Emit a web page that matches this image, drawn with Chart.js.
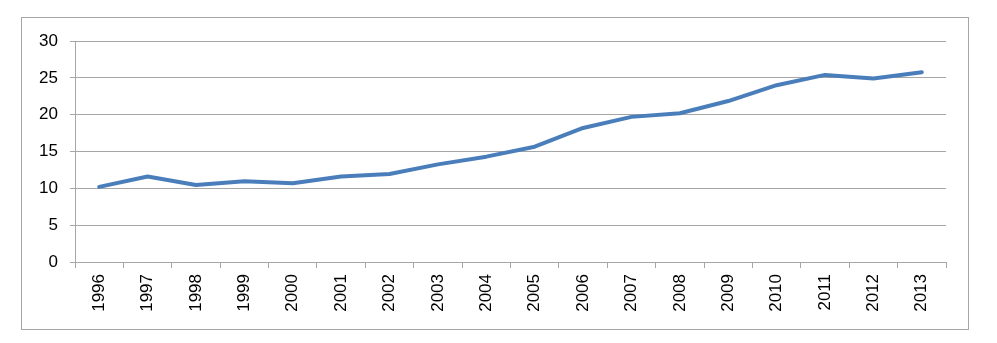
<!DOCTYPE html>
<html>
<head>
<meta charset="utf-8">
<script src="https://cdn.jsdelivr.net/npm/chart.js@4"></script>
<style>
  html, body { margin: 0; padding: 0; background: #fff; }
  body { width: 997px; height: 343px; position: relative; overflow: hidden; }
  #frame {
    position: absolute; left: 21px; top: 17px;
    width: 946px; height: 311px;
    border: 1px solid #a6a6a6; box-sizing: content-box;
  }
  #grafico { display: block; }
</style>
</head>
<body>
<div id="frame"><canvas id="grafico" width="946" height="311"></canvas></div>
<script>
// anos (eixo x)
const years = ['1996', '1997', '1998', '1999', '2000', '2001', '2002', '2003', '2004',
               '2005', '2006', '2007', '2008', '2009', '2010', '2011', '2012', '2013'];
// valores
const values = [10.2, 11.6, 10.45, 10.95, 10.7, 11.6, 11.95, 13.25, 14.3,
                15.65, 18.2, 19.7, 20.2, 21.85, 24.0, 25.4, 24.9, 25.75];
// eixo y
const yMin = 0;
const yMax = 30;
const yStep = 5;

const gridColor = '#a6a6a6';
const fontSpec = { family: 'Liberation Sans', size: 17 };

const ctx = document.getElementById('grafico').getContext('2d');

new Chart(ctx, {
    type: 'line',
    data: {
        labels: years,
        datasets: [{
            data: values,
            borderColor: '#4a7ebb',
            borderWidth: 4,
            borderCapStyle: 'round',
            borderJoinStyle: 'round',
            pointRadius: 0,
            tension: 0,
            fill: false
        }]
    },
    options: {
        responsive: false,
        animation: false,
        layout: { padding: { left: 0, top: 23, right: 22, bottom: 0 } },
        plugins: { legend: { display: false }, tooltip: { enabled: false } },
        scales: {
            x: {
                offset: true,
                grid: { offset: true, drawOnChartArea: false, drawTicks: true, tickLength: 6, color: gridColor },
                border: { color: gridColor, width: 1 },
                ticks: {
                    color: '#000', font: fontSpec, padding: 6,
                    minRotation: 90, maxRotation: 90, autoSkip: false
                },
                afterFit: scale => { scale.height = 67; }
            },
            y: {
                min: yMin,
                max: yMax,
                grid: { color: gridColor, tickLength: 5, drawTicks: true },
                border: { color: gridColor, width: 1 },
                ticks: { stepSize: yStep, color: '#000', font: fontSpec, padding: 12 },
                afterFit: scale => { scale.width = 53; }
            }
        }
    }
});
</script>
</body>
</html>
